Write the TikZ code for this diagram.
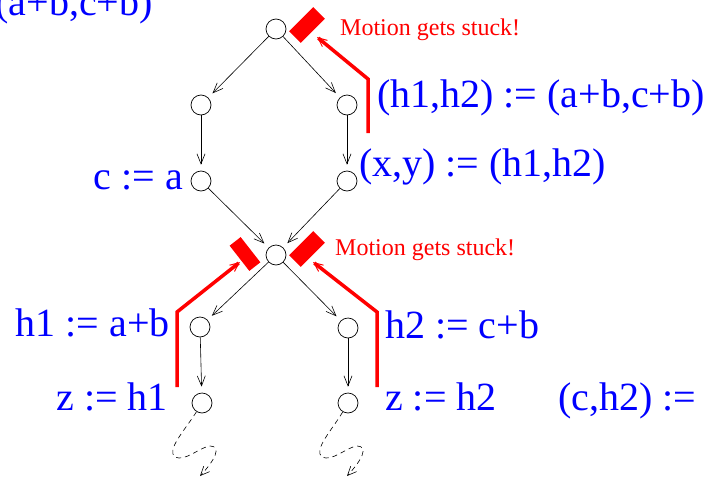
\documentclass[tikz,border=0pt]{standalone}
\usepackage{fontspec}
\setmainfont{Liberation Serif}
\usetikzlibrary{arrows.meta}
\begin{document}
\begin{tikzpicture}[x=1pt,y=-1pt,
  st/.style={circle,draw,line width=0.7pt,minimum size=20pt,inner sep=0pt},
  flow/.style={line width=0.6pt,-{Straight Barb[length=10pt,width=8pt,line width=0.6pt]},shorten >=6pt},
  loopy/.style={line width=0.6pt,dash pattern=on 5pt off 4pt,-{Straight Barb[length=9pt,width=8pt,line width=0.6pt]}},
  lbl/.style={text=blue,font=\fontsize{40}{44}\selectfont,inner sep=0pt},
  stuck/.style={text=red,font=\fontsize{24}{26}\selectfont,inner sep=0pt},
  redpath/.style={red,line width=3.5pt,-{Straight Barb[length=9pt,width=8pt,line width=1pt]}},
  block/.style={fill=red,draw=none,minimum width=34pt,minimum height=16.5pt,inner sep=0pt}]
\useasboundingbox (0,0) rectangle (707,477);
% states
\node[st] (t) at (276,29) {};
\node[st] (l1) at (201,105) {};
\node[st] (r1) at (347,105) {};
\node[st] (l2) at (201,181) {};
\node[st] (r2) at (347,181) {};
\node[st] (m) at (276,255) {};
\node[st] (l3) at (200,327) {};
\node[st] (r3) at (348,328) {};
\node[st] (l4) at (202,403) {};
\node[st] (r4) at (348,403) {};
% flow
\draw[flow] (t) -- (l1);
\draw[flow] (t) -- (r1);
\draw[flow] (l1) -- (l2);
\draw[flow] (r1) -- (r2);
\draw[flow] (l2) -- (m);
\draw[flow] (r2) -- (m);
\draw[flow] (m) -- (l3);
\draw[flow] (m) -- (r3);
\draw[flow] (l3) -- (l4);
\draw[flow] (r3) -- (r4);
% dashed continuations
\coordinate (e1) at (200,476);
\coordinate (e2) at (347,476);
\draw[loopy] (l4) .. controls (185,430) and (166,450) .. (175,457)
  .. controls (185,462) and (200,447) .. (210,446)
  .. controls (222,446) and (215,460) .. (e1);
\draw[loopy] (r4) .. controls (332,430) and (313,450) .. (322,457)
  .. controls (332,462) and (347,447) .. (357,446)
  .. controls (369,446) and (362,460) .. (e2);
% red blocks
\node[block,rotate=45] (b1) at (307,25) {};
\node[block,rotate=-52,minimum height=14pt,minimum width=32pt] (b2) at (245,254) {};
\node[block,rotate=45] (b3) at (307,249) {};
% red paths
\coordinate (ra0) at (368,133);
\coordinate (ra1) at (368,79);
\coordinate (ra2) at (317,37);
\draw[redpath] (ra0) -- (ra1) -- (ra2);
\coordinate (rb0) at (177,387);
\coordinate (rb1) at (177,312);
\coordinate (rb2) at (240,262);
\draw[redpath] (rb0) -- (rb1) -- (rb2);
\coordinate (rc0) at (377,387);
\coordinate (rc1) at (377,312);
\coordinate (rc2) at (313,262);
\draw[redpath] (rc0) -- (rc1) -- (rc2);
% red texts
\node[stuck,anchor=base west] (s1) at (340,35) {Motion gets stuck!};
\node[stuck,anchor=base west] (s2) at (335,255) {Motion gets stuck!};
% blue labels
\node[lbl,anchor=base east] (x0) at (153,15) {(a+b,c+b)};
\node[lbl,anchor=base west] (x1) at (377,107) {(h1,h2) := (a+b,c+b)};
\node[lbl,anchor=base west] (x2) at (359,176) {(x,y) := (h1,h2)};
\node[lbl,anchor=base east] (x3) at (183,189) {c := a};
\node[lbl,anchor=base east] (x4) at (170,336) {h1 := a+b};
\node[lbl,anchor=base east] (x5) at (168,410) {z := h1};
\node[lbl,anchor=base west] (x6) at (385,338) {h2 := c+b};
\node[lbl,anchor=base west] (x7) at (385,410) {z := h2};
\node[lbl,anchor=base west] (x8) at (558,410) {(c,h2) :=};
\end{tikzpicture}
\end{document}
